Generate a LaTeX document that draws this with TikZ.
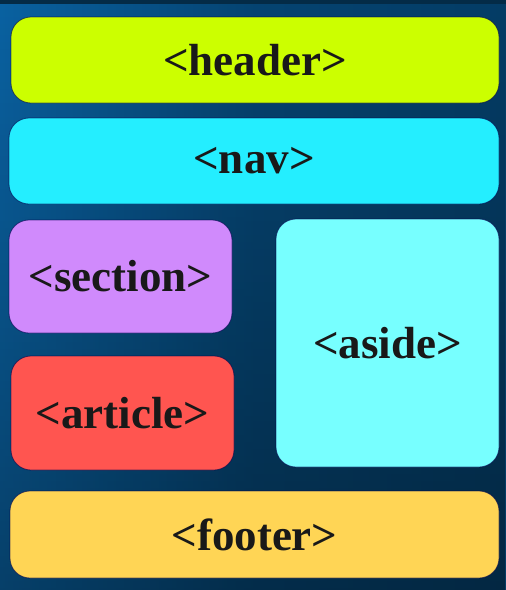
\documentclass[tikz,border=0pt]{standalone}
\usepackage{fontspec}
\setmainfont{Liberation Serif}
\usetikzlibrary{fadings}
\begin{document}
\begin{tikzpicture}[x=1pt,y=-1pt,
  box/.style={draw=black!70!blue, draw opacity=0.6, line width=0.8pt, rounded corners=20pt, inner sep=0pt, anchor=center,
    font=\fontsize{45}{45}\selectfont\bfseries, text=black!90},
]
\definecolor{bgL}{HTML}{0A62A2}
\definecolor{bgR}{HTML}{053D66}
\definecolor{cHeader}{HTML}{CCFF00}
\definecolor{cNav}{HTML}{24EEFF}
\definecolor{cSection}{HTML}{D08AFC}
\definecolor{cAside}{HTML}{77FFFF}
\definecolor{cArticle}{HTML}{FF5550}
\definecolor{cFooter}{HTML}{FFD555}
\useasboundingbox (0,0) rectangle (506,590);
\shade[left color=bgL, right color=bgR, middle color=bgR!80!bgL] (0,0) rectangle (506,590);
\fill[black, opacity=0.35, path fading=north] (0,0) rectangle (506,590);
\fill[bgR!70!black] (0,0) rectangle (506,4);
\node[box, fill=cHeader, minimum width=488, minimum height=86] (header) at (255,60) {<header>};
\node[box, fill=cNav, minimum width=490, minimum height=86] (nav) at (254,161) {<nav>};
\node[box, fill=cSection, minimum width=223, minimum height=113] (section) at (120.5,276.5) {<section>};
\node[box, fill=cArticle, minimum width=223, minimum height=114] (article) at (122.5,413) {<article>};
\node[box, fill=cAside, minimum width=223, minimum height=248] (aside) at (387.5,343) {<aside>};
\node[box, fill=cFooter, minimum width=489, minimum height=87] (footer) at (254.5,534.5) {<footer>};
\end{tikzpicture}
\end{document}
